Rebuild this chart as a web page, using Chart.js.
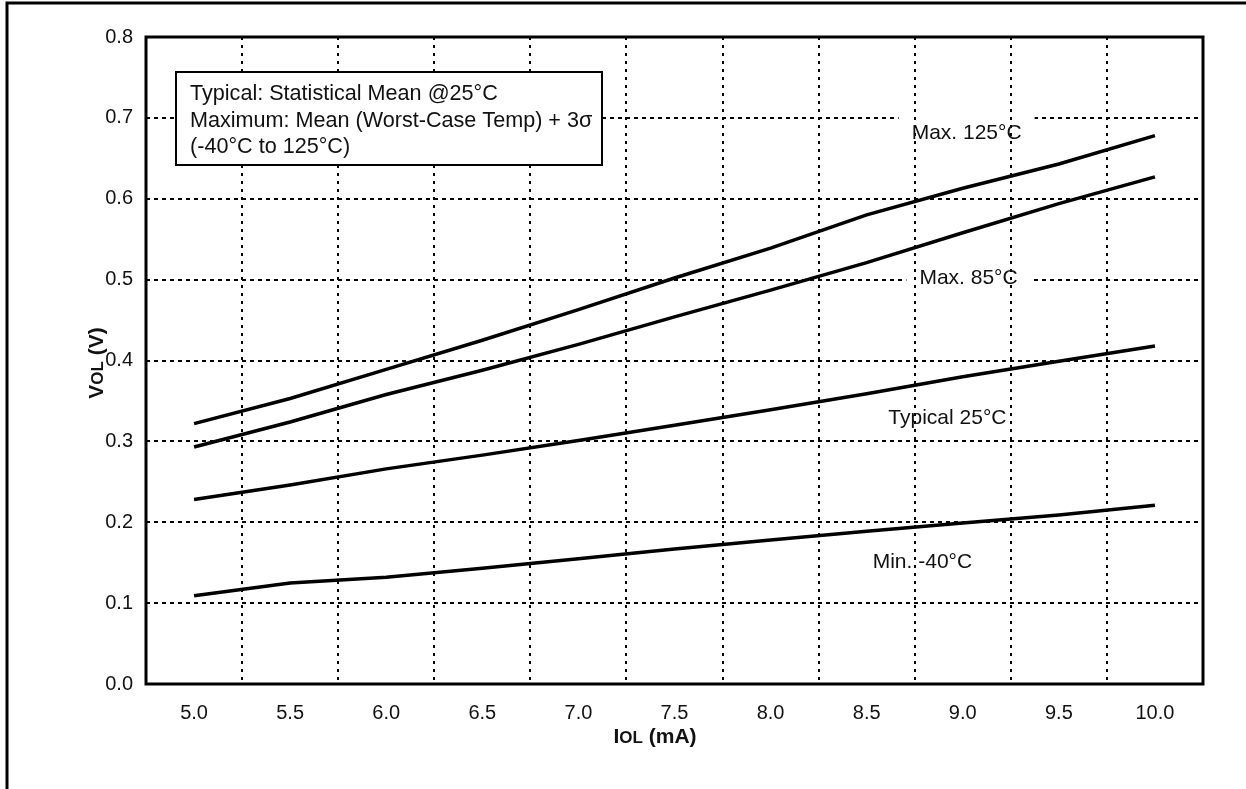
<!DOCTYPE html>
<html>
<head>
<meta charset="utf-8">
<script src="https://cdn.jsdelivr.net/npm/chart.js@4.4.1/dist/chart.umd.min.js"></script>
<style>
  html, body { margin: 0; padding: 0; background: #fff; }
  #wrap { width: 1246px; height: 789px; }
</style>
</head>
<body>
<div id="wrap"><canvas id="c" width="1246" height="789"></canvas></div>
<script>
// ---- data ----
const currentLabels = ['5.0','5.5','6.0','6.5','7.0','7.5','8.0','8.5','9.0','9.5','10.0'];
const max125 = [0.322, 0.353, 0.389, 0.425, 0.463, 0.502, 0.539, 0.580, 0.613, 0.643, 0.678];
const max85  = [0.293, 0.324, 0.358, 0.388, 0.420, 0.454, 0.487, 0.521, 0.558, 0.594, 0.627];
const typ25  = [0.228, 0.246, 0.266, 0.283, 0.301, 0.320, 0.339, 0.359, 0.380, 0.399, 0.418];
const min40  = [0.109, 0.125, 0.132, 0.143, 0.155, 0.167, 0.178, 0.189, 0.199, 0.209, 0.221];
const yTicks = [0.0, 0.1, 0.2, 0.3, 0.4, 0.5, 0.6, 0.7, 0.8];
const noteLines = ['Typical: Statistical Mean @25°C', 'Maximum: Mean (Worst-Case Temp) + 3σ', '(-40°C to 125°C)'];
const seriesNames = ['Max. 125°C', 'Max. 85°C', 'Typical 25°C', 'Min. -40°C'];
// label anchors in data units (category index, volts)
const seriesLabelAt = [[8.04, 0.681], [8.06, 0.502], [7.84, 0.329], [7.58, 0.150]];

const FONT = "'Liberation Sans', Arial, sans-serif";
const INK = '#111';
const TXT = 21;
const NOTE = 21.6;

const decor = {
  id: 'decor',
  beforeDatasetsDraw(chart) {
    const ctx = chart.ctx, xs = chart.scales.x, ys = chart.scales.y;
    ctx.save();
    ctx.font = TXT + 'px ' + FONT;
    ctx.fillStyle = '#fff';
    seriesLabelAt.forEach((p, i) => {
      const w = ctx.measureText(seriesNames[i]).width;
      const cx = xs.getPixelForValue(p[0]), cy = ys.getPixelForValue(p[1]);
      ctx.fillRect(cx - w / 2 - 13, cy - 19, w + 26, 38);
    });
    ctx.restore();
  },
  afterDraw(chart) {
    const ctx = chart.ctx, a = chart.chartArea, xs = chart.scales.x, ys = chart.scales.y;
    ctx.save();
    // plot frame
    ctx.strokeStyle = '#000';
    ctx.lineWidth = 3;
    ctx.strokeRect(a.left, a.top, a.right - a.left, a.bottom - a.top);
    // outer frame (top + left)
    ctx.beginPath();
    ctx.moveTo(7, 789); ctx.lineTo(7, 3); ctx.lineTo(1246, 3);
    ctx.stroke();
    // note box
    ctx.fillStyle = '#fff';
    ctx.fillRect(176, 72, 426, 93);
    ctx.lineWidth = 2;
    ctx.strokeRect(176, 72, 426, 93);
    ctx.fillStyle = INK;
    ctx.font = NOTE + 'px ' + FONT;
    ctx.textBaseline = 'middle';
    ctx.textAlign = 'left';
    noteLines.forEach((t, i) => ctx.fillText(t, 190, 94 + i * 26.7));
    // series labels
    ctx.font = TXT + 'px ' + FONT;
    ctx.textAlign = 'center';
    seriesLabelAt.forEach((p, i) => {
      ctx.fillText(seriesNames[i], xs.getPixelForValue(p[0]), ys.getPixelForValue(p[1]));
    });
    // axis titles with small "OL"
    const drawTitle = (parts, cx, cy, rot) => {
      ctx.save();
      ctx.translate(cx, cy);
      if (rot) ctx.rotate(-Math.PI / 2);
      let total = 0;
      parts.forEach(pt => { ctx.font = 'bold ' + pt[1] + 'px ' + FONT; total += ctx.measureText(pt[0]).width; });
      let x = -total / 2;
      ctx.textAlign = 'left';
      ctx.textBaseline = 'alphabetic';
      parts.forEach(pt => {
        ctx.font = 'bold ' + pt[1] + 'px ' + FONT;
        ctx.fillText(pt[0], x, 7);
        x += ctx.measureText(pt[0]).width;
      });
      ctx.restore();
    };
    drawTitle([['I', 21], ['OL', 17], [' (mA)', 21]], 655, 736, false);
    drawTitle([['V', 21], ['OL', 17], [' (V)', 21]], 96, 363, true);
    ctx.restore();
  }
};

const mk = (data) => ({
  data, borderColor: '#000', borderWidth: 3.5, pointRadius: 0, tension: 0, fill: false
});

new Chart(document.getElementById('c'), {
  type: 'line',
  data: {
    labels: currentLabels,
    datasets: [mk(max125), mk(max85), mk(typ25), mk(min40)]
  },
  options: {
    responsive: false,
    animation: false,
    devicePixelRatio: 1,
    layout: { padding: { left: 0, top: 37, right: 43, bottom: 0 } },
    plugins: { legend: { display: false }, tooltip: { enabled: false } },
    scales: {
      x: {
        type: 'category',
        offset: true,
        grid: { offset: true, color: '#000', lineWidth: 2, drawTicks: false, z: 1 },
        border: { display: false, dash: [3, 5] },
        ticks: { color: INK, font: { family: FONT, size: 20 }, padding: 17, maxRotation: 0, autoSkip: false },
        afterFit(s) { s.height = 105; }
      },
      y: {
        min: 0, max: 0.8,
        afterBuildTicks(s) { s.ticks = yTicks.map(v => ({ value: v })); },
        grid: { color: '#000', lineWidth: 2, drawTicks: false },
        border: { display: false, dash: [4, 4] },
        ticks: { color: INK, font: { family: FONT, size: 20 }, padding: 13, callback: v => Number(v).toFixed(1) },
        afterFit(s) { s.width = 146; }
      }
    }
  },
  plugins: [decor]
});
</script>
</body>
</html>
